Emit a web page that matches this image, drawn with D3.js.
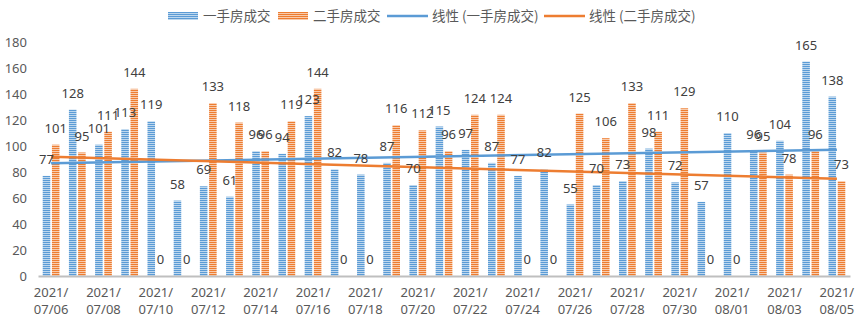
<!DOCTYPE html>
<html>
<head>
<meta charset="utf-8">
<script src="https://cdn.jsdelivr.net/npm/d3@7"></script>
<style>
  html, body { margin: 0; padding: 0; background: #fff; }
  svg { display: block; font-family: "Noto Sans CJK SC", "Noto Sans", sans-serif; }
</style>
</head>
<body>
<svg id="chart" width="862" height="322"></svg>
<script>
// Daily transactions, 2021/07/06 – 2021/08/05
const dates = [
  "07/06","07/07","07/08","07/09","07/10","07/11","07/12","07/13","07/14","07/15",
  "07/16","07/17","07/18","07/19","07/20","07/21","07/22","07/23","07/24","07/25",
  "07/26","07/27","07/28","07/29","07/30","07/31","08/01","08/02","08/03","08/04","08/05"
];
const newHomes = [
  77,128,101,113,119,58,69,61,96,94,
  123,82,78,87,70,115,97,87,77,82,
  55,70,73,98,72,57,110,96,104,165,138
];
const resaleHomes = [
  101,95,111,144,0,0,133,118,96,119,
  144,0,0,116,112,96,124,124,0,0,
  125,106,133,111,129,0,0,95,78,96,73
];
const seriesNames = ["一手房成交", "二手房成交"];
const trendNames = ["线性 (一手房成交)", "线性 (二手房成交)"];
const yTicks = [0,20,40,60,80,100,120,140,160,180];
const year = "2021/";

const colors = ["#5b9bd5", "#ed7d31"];
const lightColors = ["#bdd7ee", "#f8cbad"];

const svg = d3.select("#chart");
const margin = { left: 38, right: 12, top: 42, bottom: 46 };
const W = 862, H = 322;

// horizontal-stripe fills for the bars
const defs = svg.append("defs");
colors.forEach((c, i) => {
  const p = defs.append("pattern")
    .attr("id", "stripe" + i)
    .attr("patternUnits", "userSpaceOnUse")
    .attr("width", 4).attr("height", 2);
  p.append("rect").attr("width", 4).attr("height", 2).attr("fill", lightColors[i]);
  p.append("rect").attr("width", 4).attr("height", 1).attr("fill", c);
});

const x = d3.scaleBand()
  .domain(dates)
  .range([margin.left, W - margin.right])
  .paddingInner(0.36)
  .paddingOuter(0.18);

const x1 = d3.scaleBand()
  .domain([0, 1])
  .range([0, x.bandwidth()])
  .paddingInner(0.18);

const y = d3.scaleLinear()
  .domain([0, 180])
  .range([H - margin.bottom, margin.top]);

// y axis labels
const yAxis = d3.axisLeft(y).tickValues(yTicks).tickSize(0).tickPadding(0);
const gy = svg.append("g")
  .attr("transform", `translate(27,0)`)
  .call(yAxis);
gy.select(".domain").remove();
gy.selectAll("text")
  .attr("fill", "#595959")
  .style("font-size", "13px")
  .style("font-family", "'Noto Sans', sans-serif");

// bars
const data = [newHomes, resaleHomes];
data.forEach((vals, s) => {
  svg.append("g").selectAll("rect")
    .data(vals)
    .join("rect")
    .attr("x", (d, i) => x(dates[i]) + x1(s))
    .attr("width", x1.bandwidth())
    .attr("y", d => y(d))
    .attr("height", d => y(0) - y(d))
    .attr("fill", `url(#stripe${s})`);
});

// x axis line
const gx = svg.append("g")
  .attr("transform", `translate(0,${y(0)})`)
  .call(d3.axisBottom(x).tickSize(0).tickFormat(""));
gx.select(".domain").attr("stroke", "#bfbfbf").attr("stroke-width", 2);

// category labels every second day, two lines
const labelDates = dates.filter((d, i) => i % 2 === 0);
const lab = svg.append("g").selectAll("text")
  .data(labelDates)
  .join("text")
  .attr("x", d => x(d) + x.bandwidth() / 2)
  .attr("text-anchor", "middle")
  .attr("fill", "#595959")
  .style("font-size", "13px")
  .style("font-family", "'Noto Sans', sans-serif");
lab.append("tspan").attr("x", d => x(d) + x.bandwidth() / 2).attr("y", 297).text(year);
lab.append("tspan").attr("x", d => x(d) + x.bandwidth() / 2).attr("y", 314).text(d => d);

// linear trend lines (least squares over day index)
function linearFit(vals) {
  const n = vals.length;
  const xs = vals.map((d, i) => i + 1);
  const mx = d3.mean(xs), my = d3.mean(vals);
  let sxy = 0, sxx = 0;
  vals.forEach((v, i) => { sxy += (xs[i] - mx) * (v - my); sxx += (xs[i] - mx) ** 2; });
  const b = sxy / sxx, a = my - b * mx;
  return xs.map(t => a + b * t);
}
data.forEach((vals, s) => {
  const fit = linearFit(vals);
  const pts = [0, fit.length - 1].map(i => [x(dates[i]) + x.bandwidth() / 2, y(fit[i])]);
  svg.append("path")
    .attr("d", d3.line()(pts))
    .attr("stroke", colors[s])
    .attr("stroke-width", 2.5)
    .attr("fill", "none");
});

// value labels
data.forEach((vals, s) => {
  svg.append("g").selectAll("text")
    .data(vals)
    .join("text")
    .attr("x", (d, i) => x(dates[i]) + x1(s) + x1.bandwidth() / 2)
    .attr("y", d => y(d) - 12)
    .attr("text-anchor", "middle")
    .attr("fill", "#404040")
    .style("font-size", "13px")
    .style("font-family", "'Noto Sans', sans-serif")
    .text(d => d);
});

// legend
const lg = svg.append("g").attr("transform", "translate(0,16)");
const legendItems = [
  { type: "bar", s: 0, x: 168, label: seriesNames[0] },
  { type: "bar", s: 1, x: 278, label: seriesNames[1] },
  { type: "line", s: 0, x: 387, label: trendNames[0] },
  { type: "line", s: 1, x: 544, label: trendNames[1] }
];
legendItems.forEach(it => {
  if (it.type === "bar") {
    lg.append("rect").attr("x", it.x).attr("y", -4).attr("width", 30).attr("height", 8)
      .attr("fill", `url(#stripe${it.s})`);
  } else {
    lg.append("line").attr("x1", it.x).attr("x2", it.x + 41).attr("y1", 0).attr("y2", 0)
      .attr("stroke", colors[it.s]).attr("stroke-width", 2.5);
  }
  lg.append("text")
    .attr("x", it.x + (it.type === "bar" ? 35 : 45))
    .attr("y", 0)
    .attr("dy", "0.35em")
    .attr("fill", "#595959")
    .style("font-size", "13.5px")
    .text(it.label);
});
</script>
</body>
</html>
